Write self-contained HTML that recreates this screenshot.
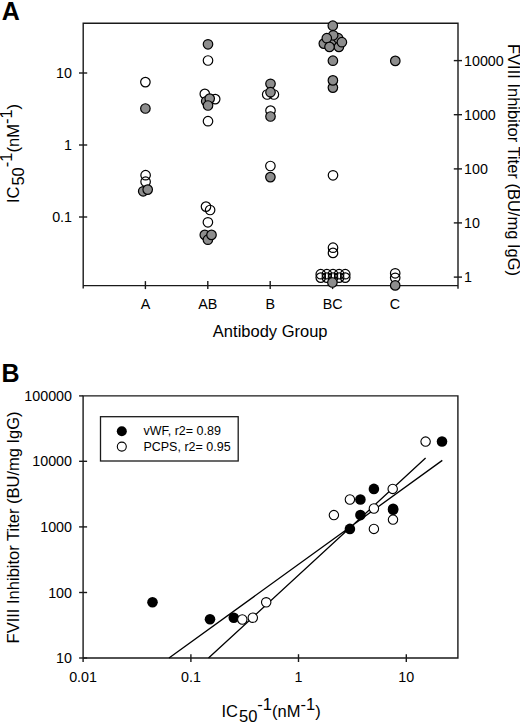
<!DOCTYPE html>
<html><head><meta charset="utf-8"><style>
html,body{margin:0;padding:0;background:#fff;}
svg{display:block;}
text{font-family:"Liberation Sans", sans-serif;fill:#000;}
</style></head><body>
<svg width="520" height="722" viewBox="0 0 520 722">
<rect width="520" height="722" fill="#fff"/>
<text x="1.8" y="19.7" font-size="25" font-weight="bold">A</text>
<path d="M83.2,288.6 V23.3 H458.0 V288.8 M83.2,285.6 H458.0" fill="none" stroke="#1a1a1a" stroke-width="1.4"/>
<path d="M79.0,73.0 H87.2" stroke="#1a1a1a" stroke-width="1.4"/>
<text x="72" y="78.0" font-size="14.3" text-anchor="end">10</text>
<path d="M79.0,145.0 H87.2" stroke="#1a1a1a" stroke-width="1.4"/>
<text x="72" y="150.0" font-size="14.3" text-anchor="end">1</text>
<path d="M79.0,217.0 H87.2" stroke="#1a1a1a" stroke-width="1.4"/>
<text x="72" y="222.0" font-size="14.3" text-anchor="end">0.1</text>
<path d="M453.8,60.6 H462.0" stroke="#1a1a1a" stroke-width="1.4"/>
<text x="464" y="65.6" font-size="14.3">10000</text>
<path d="M453.8,114.7 H462.0" stroke="#1a1a1a" stroke-width="1.4"/>
<text x="464" y="119.7" font-size="14.3">1000</text>
<path d="M453.8,168.9 H462.0" stroke="#1a1a1a" stroke-width="1.4"/>
<text x="464" y="173.9" font-size="14.3">100</text>
<path d="M453.8,222.9 H462.0" stroke="#1a1a1a" stroke-width="1.4"/>
<text x="464" y="227.9" font-size="14.3">10</text>
<path d="M453.8,277.1 H462.0" stroke="#1a1a1a" stroke-width="1.4"/>
<text x="464" y="282.1" font-size="14.3">1</text>
<path d="M145.4,281.1 V289.1" stroke="#1a1a1a" stroke-width="1.4"/>
<text x="145.4" y="309.3" font-size="14.3" text-anchor="middle">A</text>
<path d="M207.8,281.1 V289.1" stroke="#1a1a1a" stroke-width="1.4"/>
<text x="207.8" y="309.3" font-size="14.3" text-anchor="middle">AB</text>
<path d="M270.2,281.1 V289.1" stroke="#1a1a1a" stroke-width="1.4"/>
<text x="270.2" y="309.3" font-size="14.3" text-anchor="middle">B</text>
<path d="M332.6,281.1 V289.1" stroke="#1a1a1a" stroke-width="1.4"/>
<text x="332.6" y="309.3" font-size="14.3" text-anchor="middle">BC</text>
<path d="M395.0,281.1 V289.1" stroke="#1a1a1a" stroke-width="1.4"/>
<text x="395.0" y="309.3" font-size="14.3" text-anchor="middle">C</text>
<text x="270.2" y="336.8" font-size="16.5" text-anchor="middle">Antibody Group</text>
<text transform="translate(19,153.5) rotate(-90)" font-size="16.5" text-anchor="middle">IC<tspan dx="1" dy="5.3">50</tspan><tspan dy="-12.3">-1</tspan><tspan dy="7">(nM</tspan><tspan dy="-7">-1</tspan><tspan dy="7">)</tspan></text>
<text transform="translate(508,160) rotate(90)" font-size="16.5" text-anchor="middle">FVIII Inhibitor Titer (BU/mg IgG)</text>
<circle cx="145.4" cy="82.1" r="4.75" fill="none" stroke="#000" stroke-width="1.2"/><circle cx="145.4" cy="108.5" r="4.75" fill="#8d8d8d" stroke="#000" stroke-width="1.2"/><circle cx="145.6" cy="175.2" r="4.75" fill="none" stroke="#000" stroke-width="1.2"/><circle cx="145.6" cy="181.7" r="4.75" fill="none" stroke="#000" stroke-width="1.2"/><circle cx="143.2" cy="191.3" r="4.75" fill="#8d8d8d" stroke="#000" stroke-width="1.2"/><circle cx="147.7" cy="189.6" r="4.75" fill="#8d8d8d" stroke="#000" stroke-width="1.2"/><circle cx="208" cy="44.3" r="4.75" fill="#8d8d8d" stroke="#000" stroke-width="1.2"/><circle cx="208" cy="60.5" r="4.75" fill="none" stroke="#000" stroke-width="1.2"/><circle cx="204.8" cy="93.9" r="4.75" fill="none" stroke="#000" stroke-width="1.2"/><circle cx="206.2" cy="101.3" r="4.75" fill="#8d8d8d" stroke="#000" stroke-width="1.2"/><circle cx="215.2" cy="99.1" r="4.75" fill="none" stroke="#000" stroke-width="1.2"/><circle cx="209.7" cy="98.6" r="4.75" fill="#8d8d8d" stroke="#000" stroke-width="1.2"/><circle cx="208" cy="105.5" r="4.75" fill="#8d8d8d" stroke="#000" stroke-width="1.2"/><circle cx="208" cy="121.2" r="4.75" fill="none" stroke="#000" stroke-width="1.2"/><circle cx="206" cy="206.6" r="4.75" fill="none" stroke="#000" stroke-width="1.2"/><circle cx="210.1" cy="210" r="4.75" fill="none" stroke="#000" stroke-width="1.2"/><circle cx="207.9" cy="222.3" r="4.75" fill="none" stroke="#000" stroke-width="1.2"/><circle cx="204.8" cy="234.9" r="4.75" fill="#8d8d8d" stroke="#000" stroke-width="1.2"/><circle cx="207.9" cy="239.7" r="4.75" fill="#8d8d8d" stroke="#000" stroke-width="1.2"/><circle cx="211.5" cy="234.9" r="4.75" fill="#8d8d8d" stroke="#000" stroke-width="1.2"/><circle cx="270.5" cy="83.8" r="4.75" fill="#8d8d8d" stroke="#000" stroke-width="1.2"/><circle cx="267.2" cy="94.5" r="4.75" fill="none" stroke="#000" stroke-width="1.2"/><circle cx="273.9" cy="94.5" r="4.75" fill="none" stroke="#000" stroke-width="1.2"/><circle cx="270.5" cy="92.2" r="4.75" fill="#8d8d8d" stroke="#000" stroke-width="1.2"/><circle cx="270.5" cy="110.6" r="4.75" fill="none" stroke="#000" stroke-width="1.2"/><circle cx="270.5" cy="116.5" r="4.75" fill="#8d8d8d" stroke="#000" stroke-width="1.2"/><circle cx="270.4" cy="166" r="4.75" fill="none" stroke="#000" stroke-width="1.2"/><circle cx="270.4" cy="177.1" r="4.75" fill="#8d8d8d" stroke="#000" stroke-width="1.2"/><circle cx="333" cy="41.5" r="4.75" fill="#8d8d8d" stroke="#000" stroke-width="1.2"/><circle cx="323.8" cy="43.6" r="4.75" fill="#8d8d8d" stroke="#000" stroke-width="1.2"/><circle cx="338.2" cy="38.2" r="4.75" fill="#8d8d8d" stroke="#000" stroke-width="1.2"/><circle cx="333.2" cy="35.3" r="4.75" fill="#8d8d8d" stroke="#000" stroke-width="1.2"/><circle cx="326.8" cy="38.2" r="4.75" fill="#8d8d8d" stroke="#000" stroke-width="1.2"/><circle cx="338.9" cy="46.9" r="4.75" fill="#8d8d8d" stroke="#000" stroke-width="1.2"/><circle cx="341.9" cy="42.2" r="4.75" fill="#8d8d8d" stroke="#000" stroke-width="1.2"/><circle cx="329.5" cy="46.9" r="4.75" fill="#8d8d8d" stroke="#000" stroke-width="1.2"/><circle cx="332.8" cy="25.7" r="4.75" fill="#8d8d8d" stroke="#000" stroke-width="1.2"/><circle cx="332.9" cy="60.7" r="4.75" fill="#8d8d8d" stroke="#000" stroke-width="1.2"/><circle cx="332.9" cy="87.6" r="4.75" fill="#8d8d8d" stroke="#000" stroke-width="1.2"/><circle cx="332.9" cy="80.4" r="4.75" fill="#8d8d8d" stroke="#000" stroke-width="1.2"/><circle cx="333" cy="175.3" r="4.75" fill="none" stroke="#000" stroke-width="1.2"/><circle cx="333" cy="247.7" r="4.75" fill="none" stroke="#000" stroke-width="1.2"/><circle cx="333" cy="252.9" r="4.75" fill="none" stroke="#000" stroke-width="1.2"/><circle cx="320.75" cy="274.2" r="4.75" fill="none" stroke="#000" stroke-width="1.2"/><circle cx="320.75" cy="277.6" r="4.75" fill="none" stroke="#000" stroke-width="1.2"/><circle cx="326.9" cy="274.2" r="4.75" fill="none" stroke="#000" stroke-width="1.2"/><circle cx="326.9" cy="277.6" r="4.75" fill="none" stroke="#000" stroke-width="1.2"/><circle cx="333.0" cy="274.2" r="4.75" fill="none" stroke="#000" stroke-width="1.2"/><circle cx="333.0" cy="277.6" r="4.75" fill="none" stroke="#000" stroke-width="1.2"/><circle cx="339.1" cy="274.2" r="4.75" fill="none" stroke="#000" stroke-width="1.2"/><circle cx="339.1" cy="277.6" r="4.75" fill="none" stroke="#000" stroke-width="1.2"/><circle cx="345.25" cy="274.2" r="4.75" fill="none" stroke="#000" stroke-width="1.2"/><circle cx="345.25" cy="277.6" r="4.75" fill="none" stroke="#000" stroke-width="1.2"/><circle cx="332.4" cy="282.5" r="4.75" fill="#8d8d8d" stroke="#000" stroke-width="1.2"/><circle cx="395.3" cy="60.9" r="4.75" fill="#8d8d8d" stroke="#000" stroke-width="1.2"/><circle cx="395.2" cy="273.3" r="4.75" fill="none" stroke="#000" stroke-width="1.2"/><circle cx="395.2" cy="277.8" r="4.75" fill="none" stroke="#000" stroke-width="1.2"/><circle cx="395.2" cy="285.4" r="4.75" fill="#8d8d8d" stroke="#000" stroke-width="1.2"/>
<text x="1.4" y="381.9" font-size="25" font-weight="bold">B</text>
<path d="M83.1,662.0 V395.9 H457.9 V658.0 H83.1" fill="none" stroke="#1a1a1a" stroke-width="1.4"/>
<path d="M79.1,395.9 H83.1" stroke="#1a1a1a" stroke-width="1.4"/>
<text x="72" y="400.9" font-size="14.3" text-anchor="end">100000</text>
<path d="M79.1,461.3 H87.1" stroke="#1a1a1a" stroke-width="1.4"/>
<text x="72" y="466.3" font-size="14.3" text-anchor="end">10000</text>
<path d="M79.1,526.9 H87.1" stroke="#1a1a1a" stroke-width="1.4"/>
<text x="72" y="531.9" font-size="14.3" text-anchor="end">1000</text>
<path d="M79.1,592.5 H87.1" stroke="#1a1a1a" stroke-width="1.4"/>
<text x="72" y="597.5" font-size="14.3" text-anchor="end">100</text>
<path d="M79.1,658.0 H87.1" stroke="#1a1a1a" stroke-width="1.4"/>
<text x="72" y="663.0" font-size="14.3" text-anchor="end">10</text>
<text x="83.1" y="682.3" font-size="14.3" text-anchor="middle">0.01</text>
<path d="M190.9,654.2 V662.0" stroke="#1a1a1a" stroke-width="1.4"/>
<text x="190.9" y="682.3" font-size="14.3" text-anchor="middle">0.1</text>
<path d="M298.5,654.2 V662.0" stroke="#1a1a1a" stroke-width="1.4"/>
<text x="298.5" y="682.3" font-size="14.3" text-anchor="middle">1</text>
<path d="M406.3,654.2 V662.0" stroke="#1a1a1a" stroke-width="1.4"/>
<text x="406.3" y="682.3" font-size="14.3" text-anchor="middle">10</text>
<text x="221.5" y="716.6" font-size="16.5">IC<tspan dx="1" dy="5.3">50</tspan><tspan dy="-12.3">-1</tspan><tspan dy="7">(nM</tspan><tspan dy="-7">-1</tspan><tspan dy="7">)</tspan></text>
<text transform="translate(19,527.4) rotate(-90)" font-size="16.5" text-anchor="middle">FVIII Inhibitor Titer (BU/mg IgG)</text>
<rect x="100.5" y="416.7" width="137.7" height="44.3" fill="none" stroke="#1a1a1a" stroke-width="1.3"/>
<circle cx="121.8" cy="431.2" r="5.0" fill="#000"/>
<circle cx="121.8" cy="446.6" r="4.5" fill="#fff" stroke="#000" stroke-width="1.1"/>
<text x="143.4" y="435" font-size="12.5">vWF, r2= 0.89</text>
<text x="143.4" y="450.6" font-size="12.5">PCPS, r2= 0.95</text>
<path d="M169,658.0 L442.3,460.4 M208.5,658.0 L425.6,458.1" stroke="#000" stroke-width="1.3" fill="none"/>
<circle cx="152.5" cy="602.2" r="5.3" fill="#000"/><circle cx="210" cy="619.3" r="5.3" fill="#000"/><circle cx="233.8" cy="617.7" r="5.3" fill="#000"/><circle cx="242.3" cy="619.5" r="4.7" fill="#fff" stroke="#000" stroke-width="1.1"/><circle cx="252.8" cy="617.7" r="4.7" fill="#fff" stroke="#000" stroke-width="1.1"/><circle cx="266.2" cy="602.3" r="4.7" fill="#fff" stroke="#000" stroke-width="1.1"/><circle cx="349.9" cy="528.9" r="5.3" fill="#000"/><circle cx="373.9" cy="528.9" r="4.7" fill="#fff" stroke="#000" stroke-width="1.1"/><circle cx="360.4" cy="515.1" r="5.3" fill="#000"/><circle cx="333.9" cy="515.1" r="4.7" fill="#fff" stroke="#000" stroke-width="1.1"/><circle cx="373.9" cy="508.5" r="4.7" fill="#fff" stroke="#000" stroke-width="1.1"/><circle cx="360.4" cy="499.5" r="5.3" fill="#000"/><circle cx="349.9" cy="499.5" r="4.7" fill="#fff" stroke="#000" stroke-width="1.1"/><circle cx="373.9" cy="488.9" r="5.3" fill="#000"/><circle cx="392.7" cy="488.9" r="4.7" fill="#fff" stroke="#000" stroke-width="1.1"/><circle cx="393.1" cy="508.7" r="5.3" fill="#000"/><circle cx="393.1" cy="509.8" r="5.3" fill="#000"/><circle cx="393" cy="519.6" r="4.7" fill="#fff" stroke="#000" stroke-width="1.1"/><circle cx="425.6" cy="441.6" r="4.7" fill="#fff" stroke="#000" stroke-width="1.1"/><circle cx="442" cy="441.5" r="5.3" fill="#000"/>
</svg>
</body></html>
